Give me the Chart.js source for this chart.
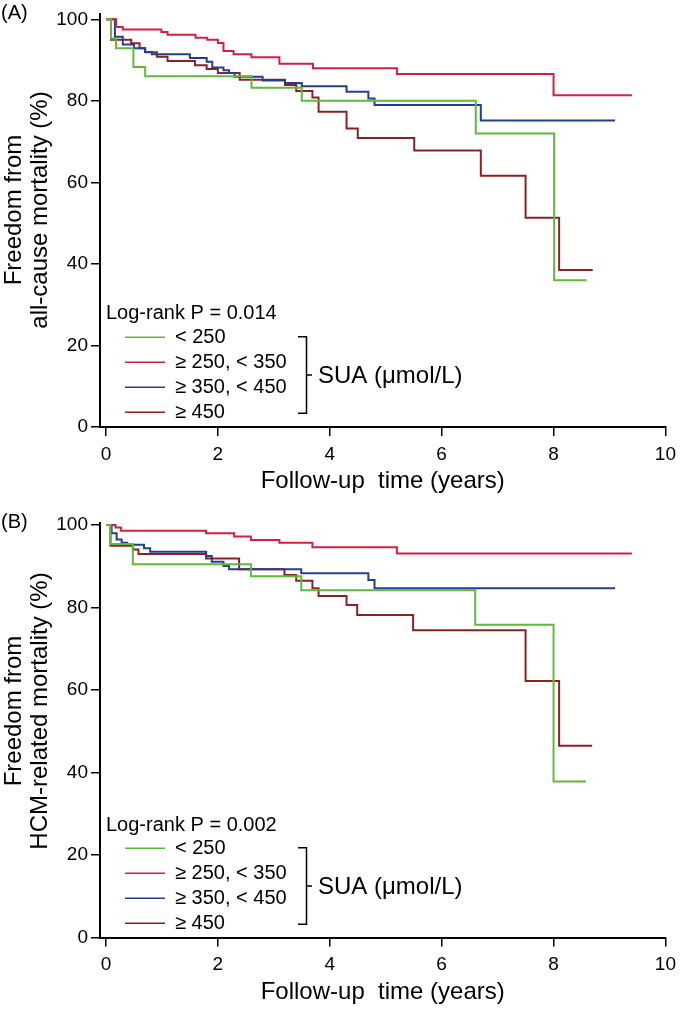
<!DOCTYPE html>
<html>
<head>
<meta charset="utf-8">
<script src="https://cdn.jsdelivr.net/npm/chart.js@4"></script>
<style>
  body { margin: 0; background: #fff; }
  .panel { position: absolute; left: 0; width: 683px; height: 506px; }
</style>
</head>
<body>
<div class="panel" style="top:0"><canvas id="chartA" width="683" height="506"></canvas></div>
<div class="panel" style="top:506px"><canvas id="chartB" width="683" height="506"></canvas></div>
<script>
const groups = ["< 250", "≥ 250, < 350", "≥ 350, < 450", "≥ 450"];
const groupColors = ["#62b83c", "#d2203f", "#243f8e", "#8b2222"];
const xTicks = [0, 2, 4, 6, 8, 10];
const yTicks = [0, 20, 40, 60, 80, 100];

// (A) all-cause mortality
const timeA1 = [0, 0.09, 0.18, 0.49, 0.70, 2.60, 3.50, 6.61, 8.01, 8.59];
const survA1 = [100, 95.3, 92.9, 88.3, 86.0, 83.2, 80.0, 72.0, 36.0, 36.0];
const timeA2 = [0, 0.18, 0.30, 0.99, 1.10, 1.60, 1.81, 2.00, 2.10, 2.28, 2.60, 3.10, 3.70, 5.20, 8.00, 9.40];
const survA2 = [100, 98.1, 97.5, 96.9, 96.2, 95.5, 95.0, 94.2, 92.2, 91.4, 90.7, 89.1, 88.0, 86.6, 81.4, 81.4];
const timeA3 = [0, 0.16, 0.30, 0.50, 0.70, 0.82, 1.50, 1.80, 1.90, 2.10, 2.20, 2.30, 2.80, 3.20, 3.50, 4.30, 4.69, 4.80, 6.70, 9.10];
const survA3 = [100, 95.7, 93.8, 92.9, 92.0, 91.4, 90.5, 89.6, 88.2, 87.5, 86.8, 85.9, 85.0, 84.4, 83.6, 82.2, 80.6, 79.0, 75.2, 75.2];
const timeA4 = [0, 0.09, 0.45, 0.60, 0.70, 0.91, 1.10, 1.59, 1.80, 2.00, 2.39, 3.20, 3.40, 3.69, 3.80, 4.30, 4.50, 5.51, 6.70, 7.50, 8.10, 8.70];
const survA4 = [100, 95.0, 94.1, 92.9, 91.9, 90.8, 89.8, 88.7, 87.8, 86.8, 85.2, 83.9, 82.4, 80.8, 77.3, 73.2, 70.9, 67.8, 61.6, 51.3, 38.5, 38.5];

// (B) HCM-related mortality
const timeB1 = [0, 0.08, 0.48, 2.59, 3.49, 6.60, 8.00, 8.58];
const survB1 = [100, 95.4, 90.5, 87.6, 84.2, 75.8, 37.8, 37.8];
const timeB2 = [0, 0.17, 0.27, 1.79, 2.29, 2.59, 3.10, 3.69, 5.20, 9.40];
const survB2 = [100, 99.4, 98.6, 98.0, 97.2, 96.4, 95.7, 94.6, 93.1, 93.1];
const timeB3 = [0, 0.10, 0.19, 0.28, 0.38, 0.68, 0.79, 1.79, 1.89, 2.10, 2.20, 3.49, 4.69, 4.80, 9.10];
const survB3 = [100, 98.0, 96.5, 95.7, 95.2, 94.4, 93.5, 92.5, 91.1, 90.1, 89.3, 88.3, 86.7, 84.7, 84.7];
const timeB4 = [0, 0.08, 0.48, 0.58, 1.79, 2.38, 3.19, 3.40, 3.69, 3.80, 4.30, 4.49, 5.49, 7.50, 8.10, 8.69];
const survB4 = [100, 95.0, 94.1, 93.0, 91.9, 89.3, 87.9, 86.5, 84.7, 82.8, 80.6, 78.2, 74.5, 62.2, 46.5, 46.5];

const FONT = '"Liberation Sans", Arial, sans-serif';
Chart.defaults.font.family = FONT;
Chart.defaults.color = "#000";

function toPoints(t, s) {
  return t.map((x, i) => ({ x: x, y: s[i] }));
}

// panel label, y title and the bracketed legend
const kmExtras = {
  id: "kmExtras",
  afterDraw(chart, args, o) {
    const ctx = chart.ctx;
    ctx.save();
    ctx.fillStyle = "#000";
    ctx.textBaseline = "middle";
    ctx.textAlign = "left";
    ctx.font = "20px " + FONT;
    ctx.fillText(o.panel, 1, o.panelY);

    ctx.save();
    ctx.translate(14, o.titleY);
    ctx.rotate(-Math.PI / 2);
    ctx.textAlign = "center";
    ctx.font = "24px " + FONT;
    o.yTitle.forEach((line, i) => ctx.fillText(line, 0, i * 26));
    ctx.restore();

    ctx.font = "20px " + FONT;
    ctx.fillText(o.logRank, 106, o.legendY);
    let first = o.legendY + o.gap;
    groups.forEach((g, i) => {
      const y = first + i * 25;
      ctx.strokeStyle = groupColors[i];
      ctx.lineWidth = 1.6;
      ctx.beginPath();
      ctx.moveTo(125, y);
      ctx.lineTo(165, y);
      ctx.stroke();
      ctx.fillText(g, 175, y);
    });
    const top = first - 0.5, bot = first + 75 + 1, mid = (top + bot) / 2;
    ctx.strokeStyle = "#000";
    ctx.lineWidth = 1.5;
    ctx.beginPath();
    ctx.moveTo(298, top);
    ctx.lineTo(306.5, top);
    ctx.lineTo(306.5, bot);
    ctx.lineTo(298, bot);
    ctx.moveTo(306.5, mid);
    ctx.lineTo(312, mid);
    ctx.stroke();
    ctx.font = "24px " + FONT;
    ctx.fillText("SUA (μmol/L)", 318, mid + 1);
    ctx.restore();
  }
};

function makeChart(id, series, cfg) {
  new Chart(document.getElementById(id), {
    type: "line",
    data: {
      datasets: series.map((s, i) => ({
        label: groups[i],
        data: toPoints(s[0], s[1]),
        borderColor: groupColors[i],
        borderWidth: 2,
        stepped: true,
        pointRadius: 0,
        fill: false
      }))
    },
    options: {
      responsive: false,
      animation: false,
      devicePixelRatio: 1,
      layout: { padding: { left: 0, right: 17, top: cfg.padTop, bottom: 0 } },
      plugins: {
        legend: { display: false },
        tooltip: { enabled: false },
        kmExtras: cfg.extras
      },
      scales: {
        x: {
          type: "linear",
          min: -0.107,
          max: 10,
          afterBuildTicks: (s) => { s.ticks = xTicks.map((v) => ({ value: v })); },
          afterFit: (s) => { s.height = cfg.xHeight; },
          grid: { drawOnChartArea: false, drawTicks: true, tickLength: 9, color: "#000", lineWidth: 1.5 },
          border: { display: true, color: "#000", width: 2 },
          ticks: { font: { size: 19 }, padding: 7, maxRotation: 0, autoSkip: false },
          title: {
            display: true,
            text: "Follow-up  time (years)",
            font: { size: 24 },
            padding: { top: 0, bottom: cfg.xTitlePad }
          }
        },
        y: {
          min: 0,
          max: cfg.yMax,
          afterBuildTicks: (s) => { s.ticks = yTicks.map((v) => ({ value: v })); },
          afterFit: (s) => { s.width = 100; },
          grid: { drawOnChartArea: false, drawTicks: true, tickLength: 9, color: "#000", lineWidth: 1.5 },
          border: { display: true, color: "#000", width: 2 },
          ticks: { font: { size: 19 }, padding: 3 }
        }
      }
    },
    plugins: [kmExtras]
  });
}

makeChart("chartA",
  [[timeA1, survA1], [timeA2, survA2], [timeA3, survA3], [timeA4, survA4]],
  {
    padTop: 7, yMax: 101.2, xHeight: 79, xTitlePad: 10,
    extras: {
      panel: "(A)", panelY: 13, titleY: 210,
      yTitle: ["Freedom from", "all-cause mortality (%)"],
      logRank: "Log-rank P = 0.014", legendY: 313, gap: 24.3
    }
  });

makeChart("chartB",
  [[timeB1, survB1], [timeB2, survB2], [timeB3, survB3], [timeB4, survB4]],
  {
    padTop: 17, yMax: 100.5, xHeight: 74.5, xTitlePad: 5,
    extras: {
      panel: "(B)", panelY: 16, titleY: 205,
      yTitle: ["Freedom from", "HCM-related mortality (%)"],
      logRank: "Log-rank P = 0.002", legendY: 319, gap: 23.3
    }
  });
</script>
</body>
</html>
